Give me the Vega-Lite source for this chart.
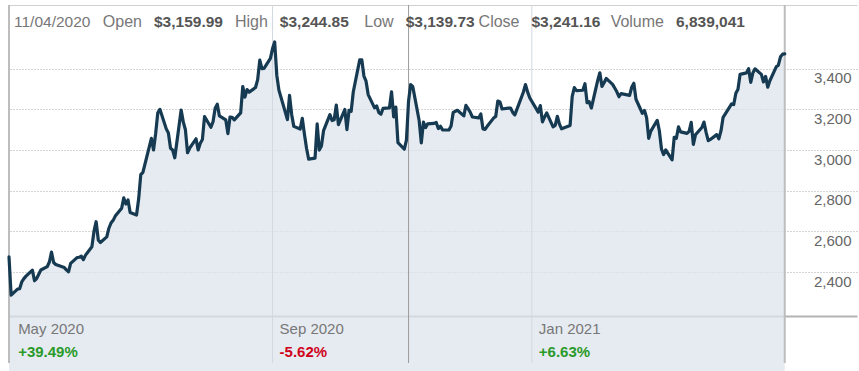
{
  "$schema": "https://vega.github.io/schema/vega-lite/v6.json",
  "background": "#ffffff",
  "padding": {"left": 7, "top": 4, "right": 4, "bottom": 9},
  "bounds": "flush",
  "spacing": 0,
  "config": {"view": {"stroke": null}, "font": "Liberation Sans"},
  "datasets": {
    "guides": [
      {"date": "2020-04-30", "kind": "edge"},
      {"date": "2021-04-30", "kind": "edge"},
      {"date": "2020-09-01", "kind": "month"},
      {"date": "2021-01-01", "kind": "month"},
      {"date": "2020-11-04", "kind": "cross"}
    ],
    "quote": [
      {"date": "2020-11-04", "Open": 3159.99, "High": 3244.85, "Low": 3139.73, "Close": 3241.16, "Volume": 6839041}
    ],
    "periods": [
      {"start": "2020-05-01", "label": "May 2020", "pct": "+39.49%", "dir": "up"},
      {"start": "2020-09-01", "label": "Sep 2020", "pct": "-5.62%", "dir": "down"},
      {"start": "2021-01-01", "label": "Jan 2021", "pct": "+6.63%", "dir": "up"}
    ],
    "prices": [
      {"date": "2020-04-30", "close": 2474.00},
      {"date": "2020-05-01", "close": 2286.04},
      {"date": "2020-05-04", "close": 2315.99},
      {"date": "2020-05-05", "close": 2317.80},
      {"date": "2020-05-06", "close": 2351.26},
      {"date": "2020-05-07", "close": 2367.61},
      {"date": "2020-05-08", "close": 2379.61},
      {"date": "2020-05-11", "close": 2409.00},
      {"date": "2020-05-12", "close": 2356.95},
      {"date": "2020-05-13", "close": 2367.92},
      {"date": "2020-05-14", "close": 2388.85},
      {"date": "2020-05-15", "close": 2409.78},
      {"date": "2020-05-18", "close": 2426.26},
      {"date": "2020-05-19", "close": 2449.33},
      {"date": "2020-05-20", "close": 2497.94},
      {"date": "2020-05-21", "close": 2446.74},
      {"date": "2020-05-22", "close": 2436.88},
      {"date": "2020-05-26", "close": 2421.86},
      {"date": "2020-05-27", "close": 2410.39},
      {"date": "2020-05-28", "close": 2401.10},
      {"date": "2020-05-29", "close": 2442.37},
      {"date": "2020-06-01", "close": 2471.04},
      {"date": "2020-06-02", "close": 2472.41},
      {"date": "2020-06-03", "close": 2478.40},
      {"date": "2020-06-04", "close": 2460.60},
      {"date": "2020-06-05", "close": 2483.00},
      {"date": "2020-06-08", "close": 2524.06},
      {"date": "2020-06-09", "close": 2600.86},
      {"date": "2020-06-10", "close": 2647.45},
      {"date": "2020-06-11", "close": 2557.96},
      {"date": "2020-06-12", "close": 2545.02},
      {"date": "2020-06-15", "close": 2572.68},
      {"date": "2020-06-16", "close": 2615.27},
      {"date": "2020-06-17", "close": 2640.98},
      {"date": "2020-06-18", "close": 2653.98},
      {"date": "2020-06-19", "close": 2675.01},
      {"date": "2020-06-22", "close": 2713.82},
      {"date": "2020-06-23", "close": 2764.41},
      {"date": "2020-06-24", "close": 2734.40},
      {"date": "2020-06-25", "close": 2754.58},
      {"date": "2020-06-26", "close": 2692.87},
      {"date": "2020-06-29", "close": 2680.38},
      {"date": "2020-06-30", "close": 2758.82},
      {"date": "2020-07-01", "close": 2878.70},
      {"date": "2020-07-02", "close": 2890.30},
      {"date": "2020-07-06", "close": 3057.04},
      {"date": "2020-07-07", "close": 3000.12},
      {"date": "2020-07-08", "close": 3081.11},
      {"date": "2020-07-09", "close": 3182.63},
      {"date": "2020-07-10", "close": 3200.00},
      {"date": "2020-07-13", "close": 3104.00},
      {"date": "2020-07-14", "close": 3084.00},
      {"date": "2020-07-15", "close": 3008.87},
      {"date": "2020-07-16", "close": 2999.90},
      {"date": "2020-07-17", "close": 2961.97},
      {"date": "2020-07-20", "close": 3196.84},
      {"date": "2020-07-21", "close": 3138.29},
      {"date": "2020-07-22", "close": 3099.91},
      {"date": "2020-07-23", "close": 2986.55},
      {"date": "2020-07-24", "close": 3008.91},
      {"date": "2020-07-27", "close": 3055.21},
      {"date": "2020-07-28", "close": 3000.33},
      {"date": "2020-07-29", "close": 3033.53},
      {"date": "2020-07-30", "close": 3051.88},
      {"date": "2020-07-31", "close": 3164.68},
      {"date": "2020-08-03", "close": 3111.89},
      {"date": "2020-08-04", "close": 3138.83},
      {"date": "2020-08-05", "close": 3205.03},
      {"date": "2020-08-06", "close": 3225.00},
      {"date": "2020-08-07", "close": 3167.46},
      {"date": "2020-08-10", "close": 3148.16},
      {"date": "2020-08-11", "close": 3080.67},
      {"date": "2020-08-12", "close": 3162.24},
      {"date": "2020-08-13", "close": 3161.02},
      {"date": "2020-08-14", "close": 3148.02},
      {"date": "2020-08-17", "close": 3182.41},
      {"date": "2020-08-18", "close": 3312.49},
      {"date": "2020-08-19", "close": 3260.48},
      {"date": "2020-08-20", "close": 3297.37},
      {"date": "2020-08-21", "close": 3284.72},
      {"date": "2020-08-24", "close": 3307.46},
      {"date": "2020-08-25", "close": 3346.49},
      {"date": "2020-08-26", "close": 3441.85},
      {"date": "2020-08-27", "close": 3400.00},
      {"date": "2020-08-28", "close": 3401.80},
      {"date": "2020-08-31", "close": 3450.96},
      {"date": "2020-09-01", "close": 3499.12},
      {"date": "2020-09-02", "close": 3531.45},
      {"date": "2020-09-03", "close": 3368.00},
      {"date": "2020-09-04", "close": 3294.62},
      {"date": "2020-09-08", "close": 3149.84},
      {"date": "2020-09-09", "close": 3268.61},
      {"date": "2020-09-10", "close": 3175.11},
      {"date": "2020-09-11", "close": 3116.22},
      {"date": "2020-09-14", "close": 3102.97},
      {"date": "2020-09-15", "close": 3156.13},
      {"date": "2020-09-16", "close": 3078.10},
      {"date": "2020-09-17", "close": 3008.73},
      {"date": "2020-09-18", "close": 2954.91},
      {"date": "2020-09-21", "close": 2960.47},
      {"date": "2020-09-22", "close": 3128.99},
      {"date": "2020-09-23", "close": 2999.86},
      {"date": "2020-09-24", "close": 3019.79},
      {"date": "2020-09-25", "close": 3095.13},
      {"date": "2020-09-28", "close": 3174.05},
      {"date": "2020-09-29", "close": 3144.88},
      {"date": "2020-09-30", "close": 3148.73},
      {"date": "2020-10-01", "close": 3221.26},
      {"date": "2020-10-02", "close": 3125.00},
      {"date": "2020-10-05", "close": 3199.20},
      {"date": "2020-10-06", "close": 3099.96},
      {"date": "2020-10-07", "close": 3195.69},
      {"date": "2020-10-08", "close": 3190.55},
      {"date": "2020-10-09", "close": 3286.65},
      {"date": "2020-10-12", "close": 3442.93},
      {"date": "2020-10-13", "close": 3443.63},
      {"date": "2020-10-14", "close": 3363.71},
      {"date": "2020-10-15", "close": 3338.65},
      {"date": "2020-10-16", "close": 3272.71},
      {"date": "2020-10-19", "close": 3207.21},
      {"date": "2020-10-20", "close": 3217.01},
      {"date": "2020-10-21", "close": 3184.94},
      {"date": "2020-10-22", "close": 3176.40},
      {"date": "2020-10-23", "close": 3204.40},
      {"date": "2020-10-26", "close": 3207.04},
      {"date": "2020-10-27", "close": 3286.33},
      {"date": "2020-10-28", "close": 3162.78},
      {"date": "2020-10-29", "close": 3211.01},
      {"date": "2020-10-30", "close": 3036.15},
      {"date": "2020-11-02", "close": 3004.48},
      {"date": "2020-11-03", "close": 3048.41},
      {"date": "2020-11-04", "close": 3241.16},
      {"date": "2020-11-05", "close": 3322.00},
      {"date": "2020-11-06", "close": 3311.37},
      {"date": "2020-11-09", "close": 3143.74},
      {"date": "2020-11-10", "close": 3035.02},
      {"date": "2020-11-11", "close": 3137.39},
      {"date": "2020-11-12", "close": 3110.28},
      {"date": "2020-11-13", "close": 3128.81},
      {"date": "2020-11-16", "close": 3131.06},
      {"date": "2020-11-17", "close": 3135.66},
      {"date": "2020-11-18", "close": 3105.46},
      {"date": "2020-11-19", "close": 3117.02},
      {"date": "2020-11-20", "close": 3099.40},
      {"date": "2020-11-23", "close": 3098.39},
      {"date": "2020-11-24", "close": 3118.06},
      {"date": "2020-11-25", "close": 3185.07},
      {"date": "2020-11-27", "close": 3195.34},
      {"date": "2020-11-30", "close": 3168.04},
      {"date": "2020-12-01", "close": 3220.08},
      {"date": "2020-12-02", "close": 3203.53},
      {"date": "2020-12-03", "close": 3186.73},
      {"date": "2020-12-04", "close": 3162.58},
      {"date": "2020-12-07", "close": 3158.00},
      {"date": "2020-12-08", "close": 3177.29},
      {"date": "2020-12-09", "close": 3104.20},
      {"date": "2020-12-10", "close": 3101.49},
      {"date": "2020-12-11", "close": 3116.42},
      {"date": "2020-12-14", "close": 3156.97},
      {"date": "2020-12-15", "close": 3165.12},
      {"date": "2020-12-16", "close": 3240.96},
      {"date": "2020-12-17", "close": 3236.08},
      {"date": "2020-12-18", "close": 3201.65},
      {"date": "2020-12-21", "close": 3206.18},
      {"date": "2020-12-22", "close": 3206.52},
      {"date": "2020-12-23", "close": 3185.27},
      {"date": "2020-12-24", "close": 3172.69},
      {"date": "2020-12-28", "close": 3283.96},
      {"date": "2020-12-29", "close": 3322.00},
      {"date": "2020-12-30", "close": 3285.85},
      {"date": "2020-12-31", "close": 3256.93},
      {"date": "2021-01-04", "close": 3186.63},
      {"date": "2021-01-05", "close": 3218.51},
      {"date": "2021-01-06", "close": 3138.38},
      {"date": "2021-01-07", "close": 3162.16},
      {"date": "2021-01-08", "close": 3182.70},
      {"date": "2021-01-11", "close": 3114.21},
      {"date": "2021-01-12", "close": 3120.83},
      {"date": "2021-01-13", "close": 3165.89},
      {"date": "2021-01-14", "close": 3127.47},
      {"date": "2021-01-15", "close": 3104.25},
      {"date": "2021-01-19", "close": 3120.76},
      {"date": "2021-01-20", "close": 3263.38},
      {"date": "2021-01-21", "close": 3306.99},
      {"date": "2021-01-22", "close": 3292.23},
      {"date": "2021-01-25", "close": 3294.00},
      {"date": "2021-01-26", "close": 3326.13},
      {"date": "2021-01-27", "close": 3232.58},
      {"date": "2021-01-28", "close": 3237.62},
      {"date": "2021-01-29", "close": 3206.20},
      {"date": "2021-02-01", "close": 3342.88},
      {"date": "2021-02-02", "close": 3380.00},
      {"date": "2021-02-03", "close": 3312.53},
      {"date": "2021-02-04", "close": 3331.00},
      {"date": "2021-02-05", "close": 3352.15},
      {"date": "2021-02-08", "close": 3322.94},
      {"date": "2021-02-09", "close": 3305.00},
      {"date": "2021-02-10", "close": 3286.58},
      {"date": "2021-02-11", "close": 3262.13},
      {"date": "2021-02-12", "close": 3277.71},
      {"date": "2021-02-16", "close": 3268.95},
      {"date": "2021-02-17", "close": 3308.64},
      {"date": "2021-02-18", "close": 3328.23},
      {"date": "2021-02-19", "close": 3249.90},
      {"date": "2021-02-22", "close": 3180.74},
      {"date": "2021-02-23", "close": 3194.50},
      {"date": "2021-02-24", "close": 3159.53},
      {"date": "2021-02-25", "close": 3057.16},
      {"date": "2021-02-26", "close": 3092.93},
      {"date": "2021-03-01", "close": 3146.14},
      {"date": "2021-03-02", "close": 3094.53},
      {"date": "2021-03-03", "close": 3005.00},
      {"date": "2021-03-04", "close": 2977.57},
      {"date": "2021-03-05", "close": 3000.46},
      {"date": "2021-03-08", "close": 2951.95},
      {"date": "2021-03-09", "close": 3062.85},
      {"date": "2021-03-10", "close": 3057.64},
      {"date": "2021-03-11", "close": 3113.59},
      {"date": "2021-03-12", "close": 3089.49},
      {"date": "2021-03-15", "close": 3081.68},
      {"date": "2021-03-16", "close": 3091.86},
      {"date": "2021-03-17", "close": 3135.73},
      {"date": "2021-03-18", "close": 3027.99},
      {"date": "2021-03-19", "close": 3074.96},
      {"date": "2021-03-22", "close": 3110.87},
      {"date": "2021-03-23", "close": 3137.50},
      {"date": "2021-03-24", "close": 3087.07},
      {"date": "2021-03-25", "close": 3046.26},
      {"date": "2021-03-26", "close": 3052.03},
      {"date": "2021-03-29", "close": 3075.73},
      {"date": "2021-03-30", "close": 3055.29},
      {"date": "2021-03-31", "close": 3094.08},
      {"date": "2021-04-01", "close": 3161.00},
      {"date": "2021-04-05", "close": 3226.73},
      {"date": "2021-04-06", "close": 3223.82},
      {"date": "2021-04-07", "close": 3279.39},
      {"date": "2021-04-08", "close": 3299.30},
      {"date": "2021-04-09", "close": 3372.20},
      {"date": "2021-04-12", "close": 3379.39},
      {"date": "2021-04-13", "close": 3400.00},
      {"date": "2021-04-14", "close": 3333.00},
      {"date": "2021-04-15", "close": 3379.09},
      {"date": "2021-04-16", "close": 3399.44},
      {"date": "2021-04-19", "close": 3372.01},
      {"date": "2021-04-20", "close": 3334.69},
      {"date": "2021-04-21", "close": 3362.02},
      {"date": "2021-04-22", "close": 3309.04},
      {"date": "2021-04-23", "close": 3340.88},
      {"date": "2021-04-26", "close": 3409.00},
      {"date": "2021-04-27", "close": 3417.43},
      {"date": "2021-04-28", "close": 3458.50},
      {"date": "2021-04-29", "close": 3471.31},
      {"date": "2021-04-30", "close": 3473.00}
    ]
  },
  "vconcat": [
    {
      "width": 848,
      "height": 33,
      "resolve": {"scale": {"x": "independent"}},
      "layer": [
        {
          "layer": [
            {
              "data": {"name": "guides"},
              "transform": [{"filter": "datum.kind === 'edge'"}],
              "mark": {"type": "rule", "color": "#bdbdbd", "strokeWidth": 2},
              "encoding": {"x": {"field": "date", "type": "temporal", "scale": {"domain": [{"year": 2020, "month": 4, "date": 30, "utc": true}, {"year": 2021, "month": 6, "date": 3, "utc": true}]}, "axis": {"orient": "top", "domain": true, "domainColor": "#d0d0d0", "domainWidth": 1, "ticks": false, "labels": false, "grid": false, "title": null}}}
            },
            {
              "data": {"name": "guides"},
              "transform": [{"filter": "datum.kind === 'month'"}],
              "mark": {"type": "rule", "color": "#d2d8e0", "strokeWidth": 1},
              "encoding": {"x": {"field": "date", "type": "temporal", "scale": {"domain": [{"year": 2020, "month": 4, "date": 30, "utc": true}, {"year": 2021, "month": 6, "date": 3, "utc": true}]}, "axis": {"orient": "top", "domain": true, "domainColor": "#d0d0d0", "domainWidth": 1, "ticks": false, "labels": false, "grid": false, "title": null}}}
            },
            {
              "data": {"name": "guides"},
              "transform": [{"filter": "datum.kind === 'cross'"}],
              "mark": {"type": "rule", "color": "#9c9c9c", "strokeWidth": 1},
              "encoding": {"x": {"field": "date", "type": "temporal", "scale": {"domain": [{"year": 2020, "month": 4, "date": 30, "utc": true}, {"year": 2021, "month": 6, "date": 3, "utc": true}]}, "axis": {"orient": "top", "domain": true, "domainColor": "#d0d0d0", "domainWidth": 1, "ticks": false, "labels": false, "grid": false, "title": null}}}
            },
            {
              "data": {"name": "quote"},
              "mark": {"type": "text", "align": "left", "baseline": "middle", "dx": 5, "fontSize": 15.5, "color": "#777777"},
              "encoding": {
                "x": {"datum": {"year": 2020, "month": 4, "date": 30, "utc": true}, "type": "temporal", "scale": {"domain": [{"year": 2020, "month": 4, "date": 30, "utc": true}, {"year": 2021, "month": 6, "date": 3, "utc": true}]}, "axis": {"orient": "top", "domain": true, "domainColor": "#d0d0d0", "domainWidth": 1, "ticks": false, "labels": false, "grid": false, "title": null}},
                "text": {"field": "date", "type": "temporal", "timeUnit": "utcyearmonthdate", "format": "%m/%d/%Y"}
              }
            }
          ]
        },
        {
          "data": {"name": "quote"},
          "transform": [{"fold": ["Open", "High", "Low", "Close"], "as": ["key", "value"]}],
          "layer": [
            {
              "mark": {"type": "text", "align": "right", "baseline": "middle", "dx": -6, "fontSize": 16, "color": "#777777"},
              "encoding": {
                "x": {"field": "key", "type": "nominal", "scale": {"type": "point", "domain": ["Open", "High", "Low", "Close"], "range": [139, 516.5], "padding": 0}, "axis": null},
                "text": {"field": "key", "type": "nominal"}
              }
            },
            {
              "mark": {"type": "text", "align": "left", "baseline": "middle", "dx": 6, "fontSize": 15.5, "fontWeight": "bold", "color": "#555555"},
              "encoding": {
                "x": {"field": "key", "type": "nominal", "scale": {"type": "point", "domain": ["Open", "High", "Low", "Close"], "range": [139, 516.5], "padding": 0}, "axis": null},
                "text": {"field": "value", "type": "quantitative", "format": "$,.2f"}
              }
            }
          ]
        },
        {
          "data": {"name": "quote"},
          "transform": [{"fold": ["Volume"], "as": ["key", "value"]}],
          "layer": [
            {
              "mark": {"type": "text", "align": "right", "baseline": "middle", "dx": -6, "fontSize": 16, "color": "#777777"},
              "encoding": {
                "x": {"field": "key", "type": "nominal", "scale": {"type": "point", "domain": ["Volume"], "range": [661, 661], "padding": 0}, "axis": null},
                "text": {"field": "key", "type": "nominal"}
              }
            },
            {
              "mark": {"type": "text", "align": "left", "baseline": "middle", "dx": 6, "fontSize": 15.5, "fontWeight": "bold", "color": "#555555"},
              "encoding": {
                "x": {"field": "key", "type": "nominal", "scale": {"type": "point", "domain": ["Volume"], "range": [661, 661], "padding": 0}, "axis": null},
                "text": {"field": "value", "type": "quantitative", "format": ",d"}
              }
            }
          ]
        }
      ]
    },
    {
      "width": 848,
      "height": 278,
      "layer": [
        {
          "data": {"name": "prices"},
          "mark": {"type": "area", "color": "#dde4ec", "fillOpacity": 0.75},
          "encoding": {
            "x": {"field": "date", "type": "temporal", "scale": {"domain": [{"year": 2020, "month": 4, "date": 30, "utc": true}, {"year": 2021, "month": 6, "date": 3, "utc": true}]}, "axis": {"orient": "bottom", "domain": true, "domainColor": "#b3b3b3", "domainWidth": 2, "ticks": false, "labels": false, "grid": false, "title": null}},
            "y": {"field": "close", "type": "quantitative", "scale": {"domain": [2183.6, 3551], "zero": false, "nice": false}, "axis": {"orient": "right", "values": [2400, 2600, 2800, 3000, 3200, 3400], "format": ",d", "domain": false, "ticks": false, "tickSize": 0, "grid": true, "gridColor": "#a8a8a8", "gridDash": [1, 2], "gridWidth": 1, "labelAlign": "right", "labelBaseline": "top", "labelPadding": -6, "labelOffset": 2, "labelFontSize": 15, "labelColor": "#666666", "labelFont": "Liberation Sans", "title": null}}
          }
        },
        {
          "data": {"name": "guides"},
          "transform": [{"filter": "datum.kind === 'edge'"}],
          "mark": {"type": "rule", "color": "#bdbdbd", "strokeWidth": 2},
          "encoding": {"x": {"field": "date", "type": "temporal", "scale": {"domain": [{"year": 2020, "month": 4, "date": 30, "utc": true}, {"year": 2021, "month": 6, "date": 3, "utc": true}]}, "axis": {"orient": "bottom", "domain": true, "domainColor": "#b3b3b3", "domainWidth": 2, "ticks": false, "labels": false, "grid": false, "title": null}}}
        },
        {
          "data": {"name": "guides"},
          "transform": [{"filter": "datum.kind === 'month'"}],
          "mark": {"type": "rule", "color": "#d2d8e0", "strokeWidth": 1},
          "encoding": {"x": {"field": "date", "type": "temporal", "scale": {"domain": [{"year": 2020, "month": 4, "date": 30, "utc": true}, {"year": 2021, "month": 6, "date": 3, "utc": true}]}, "axis": {"orient": "bottom", "domain": true, "domainColor": "#b3b3b3", "domainWidth": 2, "ticks": false, "labels": false, "grid": false, "title": null}}}
        },
        {
          "data": {"name": "guides"},
          "transform": [{"filter": "datum.kind === 'cross'"}],
          "mark": {"type": "rule", "color": "#9c9c9c", "strokeWidth": 1},
          "encoding": {"x": {"field": "date", "type": "temporal", "scale": {"domain": [{"year": 2020, "month": 4, "date": 30, "utc": true}, {"year": 2021, "month": 6, "date": 3, "utc": true}]}, "axis": {"orient": "bottom", "domain": true, "domainColor": "#b3b3b3", "domainWidth": 2, "ticks": false, "labels": false, "grid": false, "title": null}}}
        },
        {
          "data": {"name": "prices"},
          "mark": {"type": "line", "color": "#163a51", "strokeWidth": 3.2, "strokeJoin": "round", "strokeCap": "round"},
          "encoding": {
            "x": {"field": "date", "type": "temporal", "scale": {"domain": [{"year": 2020, "month": 4, "date": 30, "utc": true}, {"year": 2021, "month": 6, "date": 3, "utc": true}]}, "axis": {"orient": "bottom", "domain": true, "domainColor": "#b3b3b3", "domainWidth": 2, "ticks": false, "labels": false, "grid": false, "title": null}},
            "y": {"field": "close", "type": "quantitative", "scale": {"domain": [2183.6, 3551], "zero": false, "nice": false}, "axis": {"orient": "right", "values": [2400, 2600, 2800, 3000, 3200, 3400], "format": ",d", "domain": false, "ticks": false, "tickSize": 0, "grid": true, "gridColor": "#a8a8a8", "gridDash": [1, 2], "gridWidth": 1, "labelAlign": "right", "labelBaseline": "top", "labelPadding": -6, "labelOffset": 2, "labelFontSize": 15, "labelColor": "#666666", "labelFont": "Liberation Sans", "title": null}}
          }
        }
      ]
    },
    {
      "width": 848,
      "height": 47,
      "layer": [
        {
          "data": {"name": "guides"},
          "transform": [{"filter": "datum.kind === 'edge'"}],
          "mark": {"type": "rule", "color": "#bdbdbd", "strokeWidth": 2},
          "encoding": {"x": {"field": "date", "type": "temporal", "scale": {"domain": [{"year": 2020, "month": 4, "date": 30, "utc": true}, {"year": 2021, "month": 6, "date": 3, "utc": true}]}, "axis": null}}
        },
        {
          "data": {"name": "guides"},
          "transform": [{"filter": "datum.kind === 'month'"}],
          "mark": {"type": "rule", "color": "#d2d8e0", "strokeWidth": 1},
          "encoding": {"x": {"field": "date", "type": "temporal", "scale": {"domain": [{"year": 2020, "month": 4, "date": 30, "utc": true}, {"year": 2021, "month": 6, "date": 3, "utc": true}]}, "axis": null}}
        },
        {
          "data": {"name": "guides"},
          "transform": [{"filter": "datum.kind === 'cross'"}],
          "mark": {"type": "rule", "color": "#9c9c9c", "strokeWidth": 1},
          "encoding": {"x": {"field": "date", "type": "temporal", "scale": {"domain": [{"year": 2020, "month": 4, "date": 30, "utc": true}, {"year": 2021, "month": 6, "date": 3, "utc": true}]}, "axis": null}}
        },
        {
          "data": {"name": "periods"},
          "mark": {"type": "text", "align": "left", "baseline": "middle", "dx": 7, "fontSize": 15, "color": "#777777"},
          "encoding": {
            "x": {"field": "start", "type": "temporal", "scale": {"domain": [{"year": 2020, "month": 4, "date": 30, "utc": true}, {"year": 2021, "month": 6, "date": 3, "utc": true}]}, "axis": null},
            "y": {"datum": "label", "type": "nominal", "scale": {"type": "point", "domain": ["label", "pct"], "padding": 0.52, "align": 0.54}, "axis": null},
            "text": {"field": "label", "type": "nominal"}
          }
        },
        {
          "data": {"name": "periods"},
          "mark": {"type": "text", "align": "left", "baseline": "middle", "dx": 7, "fontSize": 15, "fontWeight": "bold"},
          "encoding": {
            "x": {"field": "start", "type": "temporal", "scale": {"domain": [{"year": 2020, "month": 4, "date": 30, "utc": true}, {"year": 2021, "month": 6, "date": 3, "utc": true}]}, "axis": null},
            "y": {"datum": "pct", "type": "nominal", "scale": {"type": "point", "domain": ["label", "pct"], "padding": 0.52, "align": 0.54}, "axis": null},
            "text": {"field": "pct", "type": "nominal"},
            "fill": {"field": "dir", "type": "nominal", "scale": {"domain": ["up", "down"], "range": ["#2a9a2a", "#d0021b"]}, "legend": null}
          }
        }
      ]
    }
  ]
}
